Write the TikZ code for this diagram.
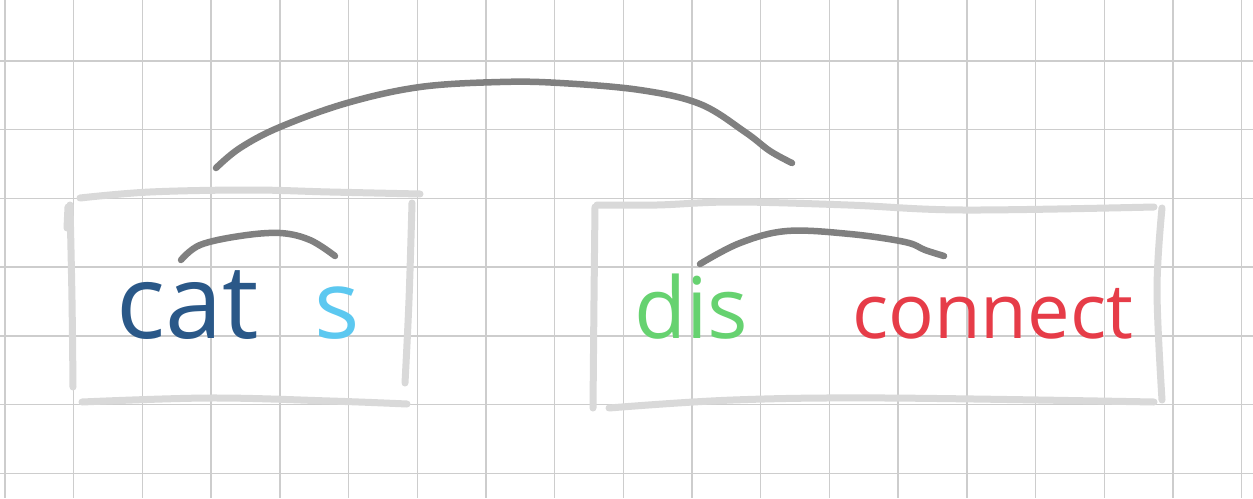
\documentclass[tikz,border=0pt]{standalone}
\usepackage{fontspec}
\newfontfamily\handfont{Open Sans}
\definecolor{gridgray}{RGB}{205,205,205}
\definecolor{boxgray}{RGB}{217,217,217}
\definecolor{arcgray}{RGB}{128,128,128}
\definecolor{catblue}{RGB}{42,88,136}
\definecolor{sblue}{RGB}{92,200,240}
\definecolor{disgreen}{RGB}{102,210,112}
\definecolor{conred}{RGB}{230,60,72}
\tikzset{
  gridline/.style={draw=gridgray, line width=1.4pt},
  boxline/.style={draw=boxgray, line width=7pt, line cap=round, line join=round},
  arcline/.style={draw=arcgray, line width=6.5pt, line cap=round, line join=round},
  word/.style={anchor=base west, inner sep=0pt, outer sep=0pt}
}
\begin{document}
\begin{tikzpicture}[x=1pt,y=-1pt]
\fill[white] (0,0) rectangle (1253,498);
\useasboundingbox (0,0) rectangle (1253,498);
% grid
\foreach \i in {0,...,18} \draw[gridline] ({5+68.7*\i},0) -- ({5+68.7*\i},498);
\foreach \j in {0,...,6} \draw[gridline] (0,{61+68.7*\j}) -- (1253,{61+68.7*\j});
% left box
\draw[boxline] plot[smooth, tension=0.6] coordinates {(80,198) (150,192) (250,190) (330,192) (420,194)};
\draw[boxline] plot[smooth, tension=0.6] coordinates {(70,205) (72,300) (73,387)};
\draw[boxline] (68,207) -- (67,228);
\draw[boxline] plot[smooth, tension=0.6] coordinates {(412,203) (409,300) (405,383)};
\draw[boxline] plot[smooth, tension=0.6] coordinates {(82,402) (210,398) (330,401) (407,404)};
% right box
\draw[boxline] plot[smooth, tension=0.6] coordinates {(597,205) (657,205) (733,202) (848,205) (963,210) (1154,207)};
\draw[boxline] plot[smooth, tension=0.6] coordinates {(595,207) (594,300) (593,408)};
\draw[boxline] plot[smooth, tension=0.6] coordinates {(1162,208) (1157,290) (1162,400)};
\draw[boxline] plot[smooth, tension=0.6] coordinates {(609,408) (733,400) (886,398) (1154,402)};
% words
\node[word, text=catblue, font=\handfont\fontsize{103}{103}\selectfont] (cat) at (116,338) {cat};
\node[word, text=sblue, font=\handfont\fontsize{95}{95}\selectfont] (s) at (314,338) {s};
\node[word, text=disgreen, font=\handfont\fontsize{85}{85}\selectfont] (dis) at (634,338) {dis};
\node[word, text=conred, font=\handfont\fontsize{76}{76}\selectfont] (connect) at (852,338) {connect};
% arc end points
\coordinate (catL) at (181,260);
\coordinate (sR) at (335,256);
\coordinate (disL) at (700,264);
\coordinate (conR) at (944,256);
\coordinate (leftTop) at (216,168);
\coordinate (rightTop) at (792,163);
% arcs
\draw[arcline] plot[smooth, tension=0.6] coordinates {(catL) (200,245) (240,236) (280,233) (310,240) (sR)};
\draw[arcline] plot[smooth, tension=0.6] coordinates {(disL) (740,243) (787,231) (850,234) (905,242) (925,250) (conR)};
\draw[arcline] plot[smooth, tension=0.6] coordinates {(leftTop) (240,148) (280,127) (347,103) (420,87) (500,82) (560,83) (640,90) (700,104) (745,132) (770,151) (rightTop)};
\end{tikzpicture}
\end{document}
